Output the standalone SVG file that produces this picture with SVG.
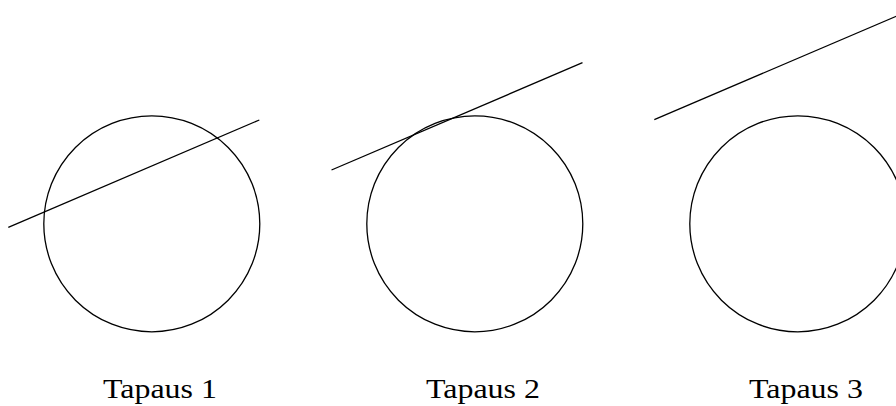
<svg xmlns="http://www.w3.org/2000/svg" width="896" height="406" viewBox="0 0 896 406">
<style>
.c{fill:none;stroke:#000;stroke-width:1.3}
.l{stroke:#000;stroke-width:1.3}
.t{font-family:"Liberation Serif","DejaVu Serif",serif;font-size:28px;fill:#000;text-anchor:middle}
</style>
<rect width="896" height="406" fill="#fff"/>
<g id="case1">
<circle class="c" cx="151.8" cy="223.8" r="108"/>
<text class="t" x="160" y="398" textLength="114" lengthAdjust="spacingAndGlyphs">Tapaus 1</text>
</g>
<g id="case2">
<circle class="c" cx="474.8" cy="223.8" r="108"/>
<text class="t" x="483" y="398" textLength="114" lengthAdjust="spacingAndGlyphs">Tapaus 2</text>
</g>
<g id="case3">
<circle class="c" cx="797.8" cy="223.8" r="108"/>
<text class="t" x="806" y="398" textLength="114" lengthAdjust="spacingAndGlyphs">Tapaus 3</text>
</g>
<g id="connectors">
<line class="l" x1="8.3" y1="227.3" x2="259.3" y2="120"/>
<line class="l" x1="331.5" y1="170" x2="582.5" y2="62.7"/>
<line class="l" x1="654.3" y1="119.7" x2="905.3" y2="12.4"/>
</g>
</svg>
